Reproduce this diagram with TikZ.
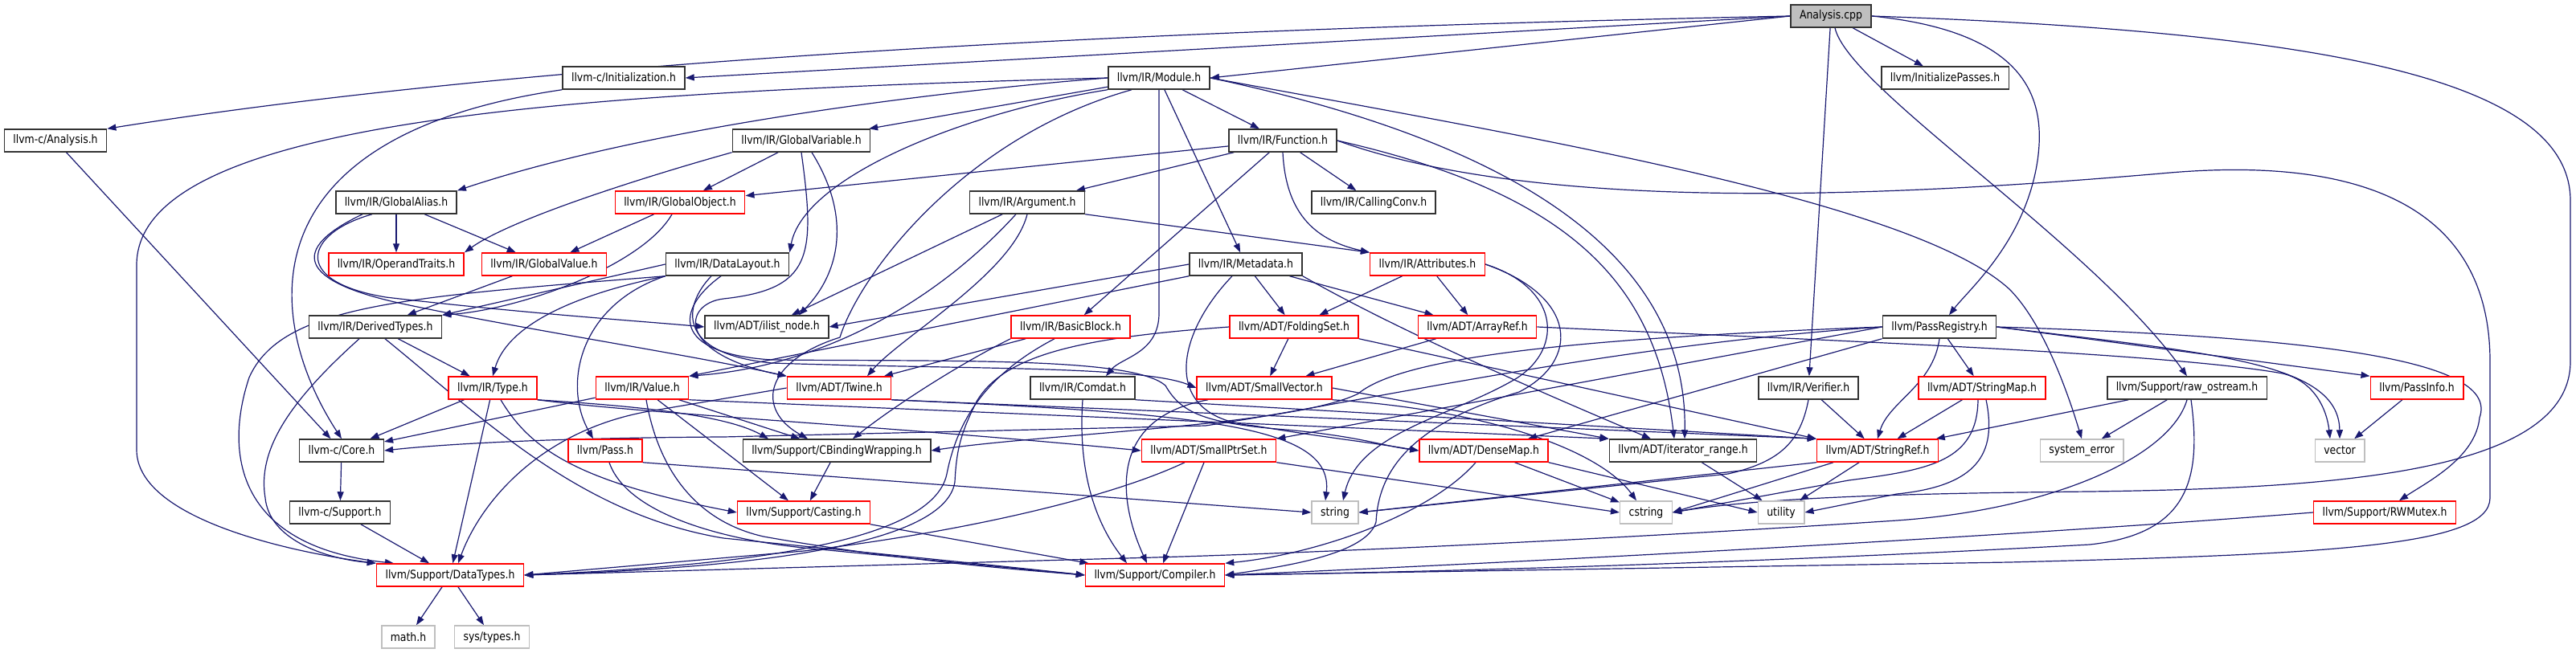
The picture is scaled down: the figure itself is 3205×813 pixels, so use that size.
\documentclass[tikz,border=0pt]{standalone}
\usepackage{fontspec}
\setmainfont[FakeStretch=0.86]{DejaVu Sans}
\usetikzlibrary{arrows.meta}
\definecolor{edgec}{RGB}{25,25,112}
\definecolor{redb}{RGB}{255,0,0}
\definecolor{grayb}{RGB}{191,191,191}
\definecolor{rootf}{RGB}{191,191,191}
\pgfdeclarelayer{bg}
\pgfsetlayers{bg,main}
\tikzset{
  nb/.style={rectangle, draw, line width=1.5pt, minimum height=28pt, inner xsep=11pt, inner ysep=0pt, fill=white, font=\fontsize{14.5}{17}\selectfont},
  bbox/.style={nb, draw=black!80},
  rbox/.style={nb, draw=redb},
  gbox/.style={nb, draw=grayb},
  rootbox/.style={nb, draw=black!80, fill=rootf},
  ed/.style={draw=edgec, line width=1.2pt, -{Triangle[length=11pt,width=8pt]}},
}
\begin{document}
\begin{tikzpicture}[x=1pt,y=-1pt]
\useasboundingbox (0,0) rectangle (3205,813);
% nodes
\node[rootbox] (A) at (2278,20) {Analysis.cpp};
\node[bbox] (cAn) at (69,175) {llvm-c/Analysis.h};
\node[bbox] (cInit) at (776,97) {llvm-c/Initialization.h};
\node[bbox] (Mod) at (1442,97) {llvm/IR/Module.h};
\node[bbox] (InitP) at (2420,97) {llvm/InitializePasses.h};
\node[bbox] (GV) at (997,175) {llvm/IR/GlobalVariable.h};
\node[bbox] (Fn) at (1596,175) {llvm/IR/Function.h};
\node[bbox] (GA) at (493,252) {llvm/IR/GlobalAlias.h};
\node[rbox] (GO) at (846,252) {llvm/IR/GlobalObject.h};
\node[bbox] (Arg) at (1278,252) {llvm/IR/Argument.h};
\node[bbox] (CC) at (1709,252) {llvm/IR/CallingConv.h};
\node[rbox] (OT) at (493,329) {llvm/IR/OperandTraits.h};
\node[rbox] (GVal) at (677,329) {llvm/IR/GlobalValue.h};
\node[bbox] (DL) at (905,329) {llvm/IR/DataLayout.h};
\node[bbox] (Md) at (1550,329) {llvm/IR/Metadata.h};
\node[rbox] (Attr) at (1776,329) {llvm/IR/Attributes.h};
\node[bbox] (DT) at (467,407) {llvm/IR/DerivedTypes.h};
\node[bbox] (ilist) at (954,407) {llvm/ADT/ilist\_node.h};
\node[rbox] (BB) at (1332,407) {llvm/IR/BasicBlock.h};
\node[rbox] (FS) at (1610,407) {llvm/ADT/FoldingSet.h};
\node[rbox] (AR) at (1838,407) {llvm/ADT/ArrayRef.h};
\node[bbox] (PR) at (2413,407) {llvm/PassRegistry.h};
\node[rbox] (Type) at (613,483) {llvm/IR/Type.h};
\node[rbox] (Val) at (799,483) {llvm/IR/Value.h};
\node[rbox] (Twine) at (1044,483) {llvm/ADT/Twine.h};
\node[bbox] (Comdat) at (1347,483) {llvm/IR/Comdat.h};
\node[rbox] (SV) at (1573,483) {llvm/ADT/SmallVector.h};
\node[bbox] (Ver) at (2250,483) {llvm/IR/Verifier.h};
\node[rbox] (SMap) at (2466,483) {llvm/ADT/StringMap.h};
\node[bbox] (raw) at (2721,483) {llvm/Support/raw\_ostream.h};
\node[rbox] (PInfo) at (3007,483) {llvm/PassInfo.h};
\node[bbox] (Core) at (425,561) {llvm-c/Core.h};
\node[rbox] (Pass) at (753,561) {llvm/Pass.h};
\node[bbox] (CBW) at (1041,561) {llvm/Support/CBindingWrapping.h};
\node[rbox] (SPS) at (1504,561) {llvm/ADT/SmallPtrSet.h};
\node[rbox] (DM) at (1846,561) {llvm/ADT/DenseMap.h};
\node[bbox] (iter) at (2094,561) {llvm/ADT/iterator\_range.h};
\node[rbox] (SR) at (2336,561) {llvm/ADT/StringRef.h};
\node[gbox] (sysErr) at (2590,561) {system\_error};
\node[gbox] (nvec) at (2911,561) {vector};
\node[bbox] (cSup) at (423,638) {llvm-c/Support.h};
\node[rbox] (Cast) at (1000,638) {llvm/Support/Casting.h};
\node[gbox] (nstr) at (1661,638) {string};
\node[gbox] (ncstr) at (2048,638) {cstring};
\node[gbox] (nutil) at (2216,638) {utility};
\node[rbox] (RW) at (2967,638) {llvm/Support/RWMutex.h};
\node[rbox] (DTy) at (560,716) {llvm/Support/DataTypes.h};
\node[rbox] (Comp) at (1437,716) {llvm/Support/Compiler.h};
\node[gbox] (nmath) at (508,793) {math.h};
\node[gbox] (nsys) at (612,793) {sys/types.h};

\begin{pgfonlayer}{bg}
% Analysis.cpp
\draw[ed] (A.west) .. controls (1500,35) and (700,70) .. (cAn.north east);
\draw[ed] (A.west) -- (cInit.east);
\draw[ed] (A.west) -- (Mod.east);
\draw[ed] (A) -- (InitP);
\draw[ed] (A) -- (Ver);
\draw[ed] (A.east) .. controls (2530,40) and (2545,130) .. (2535,200) .. controls (2520,300) and (2450,360) .. ([xshift=12pt]PR.north);
\draw[ed] ([xshift=5pt]A.south) .. controls (2300,110) and (2600,300) .. (raw.north);
\draw[ed] (A.east) .. controls (2900,40) and (3198,100) .. (3198,250) -- (3198,450) .. controls (3198,590) and (2900,608) .. (2600,612) .. controls (2400,614) and (2200,618) .. (ncstr.east);
% c headers
\draw[ed] (cAn) -- (Core);
\draw[ed] (cInit.south west) .. controls (300,170) and (330,400) .. (Core.north);
% Module
\draw[ed] (Mod.west) .. controls (700,115) and (170,150) .. (170,330) -- (170,560) .. controls (170,650) and (380,690) .. (DTy.north west);
\draw[ed] (Mod.west) .. controls (1150,115) and (800,160) .. (GA.north east);
\draw[ed] (Mod) -- (GV);
\draw[ed] (Mod.south west) .. controls (1200,140) and (1000,220) .. (DL.north east);
\draw[ed] ([xshift=-34pt]Mod.south) .. controls (1200,170) and (1070,340) .. (1045,420) .. controls (950,450) and (940,510) .. ([xshift=-36pt]CBW.north);
\draw[ed] (Mod) -- (Fn);
\draw[ed] (Mod.south) -- (1442,390) .. controls (1442,440) and (1395,445) .. ([xshift=29pt]Comdat.north);
\draw[ed] (Mod) -- (Md);
\draw[ed] (Mod.east) .. controls (1850,170) and (2100,300) .. ([xshift=2pt]iter.north);
\draw[ed] (Mod.east) .. controls (1900,170) and (2380,250) .. (2500,360) .. controls (2540,400) and (2570,480) .. (sysErr.north);
% Function
\draw[ed] (Fn) -- (GO);
\draw[ed] (Fn) -- (Arg);
\draw[ed] (Fn) -- (BB);
\draw[ed] (Fn) -- (CC);
\draw[ed] (Fn.south) .. controls (1600,270) and (1640,300) .. (Attr.north west);
\draw[ed] (Fn.east) .. controls (1950,240) and (2060,350) .. ([xshift=-11pt]iter.north);
\draw[ed] (Fn.east) .. controls (1900,260) and (2300,250) .. (2700,215) .. controls (3000,190) and (3098,300) .. (3098,450) -- (3098,620) .. controls (3098,680) and (2900,690) .. (2500,700) -- (Comp.east);
% GlobalVariable
\draw[ed] (GV) -- (GO);
\draw[ed] (GV.south west) .. controls (820,215) and (640,270) .. (OT.north east);
\draw[ed] ([xshift=13pt]GV.south) .. controls (1060,270) and (1045,340) .. ([xshift=40pt]ilist.north);
\draw[ed] (GV.south) .. controls (1015,320) and (1010,360) .. (900,372) .. controls (850,378) and (840,440) .. (Twine.north west);
% GlobalAlias
\draw[ed] (GA) -- (OT);
\draw[ed] (GA) -- (GVal);
\draw[ed] ([xshift=-30pt]GA.south) .. controls (380,290) and (360,350) .. (480,370) .. controls (650,390) and (800,400) .. (ilist.west);
\draw[ed] ([xshift=-42pt]GA.south) .. controls (360,310) and (370,350) .. (500,378) .. controls (650,410) and (850,440) .. (Twine.north west);
% GlobalObject / GlobalValue
\draw[ed] (GO) -- (GVal);
\draw[ed] ([xshift=-10pt]GO.south) .. controls (800,330) and (650,385) .. (DT.north east);
\draw[ed] (GVal) -- (DT);
% Argument
\draw[ed] (Arg) -- (ilist);
\draw[ed] ([xshift=-14pt]Arg.south) .. controls (1170,370) and (1030,455) .. (Val.north east);
\draw[ed] (Arg.south) .. controls (1260,340) and (1120,420) .. ([xshift=35pt]Twine.north);
\draw[ed] (Arg.south east) -- (Attr.north west);
% DataLayout
\draw[ed] (DL.west) -- (DT.north east);
\draw[ed] (DL.south west) .. controls (700,370) and (630,410) .. (Type.north);
\draw[ed] (DL.south west) .. controls (720,380) and (700,480) .. ([xshift=-15pt]Pass.north);
\draw[ed] (DL.south west) .. controls (500,370) and (350,380) .. (310,470) .. controls (280,560) and (290,680) .. ([xshift=-70pt]DTy.north);
\draw[ed] ([xshift=-20pt]DL.south) .. controls (850,380) and (840,440) .. (960,452) .. controls (1200,460) and (1420,455) .. (SV.west);
\draw[ed] ([xshift=-8pt]DL.south) .. controls (840,385) and (835,440) .. (960,448) .. controls (1200,450) and (1410,445) .. (1450,480) .. controls (1470,515) and (1500,527) .. (1600,535) .. controls (1690,543) and (1720,555) .. (DM.west);
% Metadata
\draw[ed] (Md.west) -- (ilist.east);
\draw[ed] (Md.south west) -- (Val.north east);
\draw[ed] (Md) -- (FS);
\draw[ed] (Md) -- (AR);
\draw[ed] (Md.south east) .. controls (1720,400) and (1850,460) .. ([xshift=-40pt]iter.north);
\draw[ed] ([xshift=-17pt]Md.south) .. controls (1460,420) and (1445,520) .. (1560,530) .. controls (1650,545) and (1700,550) .. (DM.west);
% Attributes
\draw[ed] (Attr) -- (FS);
\draw[ed] (Attr) -- (AR);
\draw[ed] (Attr.east) .. controls (1945,360) and (1945,440) .. (1880,475) .. controls (1800,520) and (1690,540) .. ([xshift=10pt]nstr.north);
\draw[ed] (Attr.east) .. controls (1965,370) and (1965,450) .. (1890,488) .. controls (1750,530) and (1715,590) .. (1712,650) .. controls (1700,690) and (1600,705) .. (Comp.east);
% BasicBlock
\draw[ed] (BB) -- (Twine);
\draw[ed] (BB.south west) .. controls (1200,450) and (1120,500) .. ([xshift=20pt]CBW.north);
\draw[ed] ([xshift=-20pt]BB.south) .. controls (1220,470) and (1190,530) .. (1178,590) .. controls (1160,680) and (900,705) .. (DTy.east);
% FoldingSet
\draw[ed] (FS) -- (SV);
\draw[ed] (FS.south east) -- (SR.north west);
\draw[ed] (FS.west) .. controls (1350,420) and (1250,440) .. (1215,500) .. controls (1195,540) and (1190,560) .. (1188,600) .. controls (1175,685) and (900,708) .. (DTy.east);
% ArrayRef
\draw[ed] (AR) -- (SV);
\draw[ed] (AR.east) .. controls (2300,425) and (2700,440) .. (2840,465) .. controls (2880,475) and (2895,510) .. ([xshift=-12pt]nvec.north);
% PassRegistry
\draw[ed] (PR) -- (SMap);
\draw[ed] (PR.east) -- (PInfo.north west);
\draw[ed] (PR.east) .. controls (2750,440) and (2910,450) .. (nvec.north);
\draw[ed] (PR.east) .. controls (2900,420) and (3110,450) .. (3085,520) .. controls (3080,570) and (3020,600) .. ([xshift=18pt]RW.north);
\draw[ed] (PR.south) .. controls (2405,480) and (2350,500) .. (SR.north);
\draw[ed] (PR.south west) -- ([xshift=55pt]DM.north);
\draw[ed] (PR.west) -- (SPS.north east);
\draw[ed] (PR.west) .. controls (2000,420) and (1750,440) .. (1690,490) .. controls (1610,530) and (1300,540) .. (CBW.east);
\draw[ed] (PR.west) .. controls (2000,430) and (1700,500) .. (1500,530) -- (900,544) .. controls (700,545) and (560,552) .. (Core.east);
% Type
\draw[ed] (Type) -- (Core);
\draw[ed] (Type) -- (DTy);
\draw[ed] ([xshift=10pt]Type.south) .. controls (660,560) and (720,600) .. (Cast.west);
\draw[ed] (Type.south east) .. controls (780,505) and (900,515) .. ([xshift=-85pt]CBW.north);
\draw[ed] (Type.south east) .. controls (800,515) and (1100,530) .. (SPS.west);
% Value
\draw[ed] (Val) -- (Core);
\draw[ed] (Val) -- (CBW);
\draw[ed] (Val) -- (Cast);
\draw[ed] ([xshift=5pt]Val.south) .. controls (820,590) and (870,650) .. (950,668) .. controls (1100,695) and (1250,708) .. (Comp.west);
\draw[ed] (Val.south east) -- (iter.north west);
% Twine
\draw[ed] (Twine.south east) -- (SR.north west);
\draw[ed] (Twine.south east) .. controls (1500,515) and (1660,530) .. ([xshift=-12pt]nstr.north);
\draw[ed] (Twine.west) -- (820,510) .. controls (680,530) and (600,620) .. ([xshift=10pt]DTy.north);
% Comdat
\draw[ed] (Comdat.south) .. controls (1340,600) and (1370,660) .. ([xshift=-35pt]Comp.north);
\draw[ed] (Comdat.south east) -- (SR.north west);
% SmallVector
\draw[ed] (SV.east) -- (iter.north west);
\draw[ed] (SV.south east) .. controls (1850,510) and (1990,560) .. ([xshift=-12pt]ncstr.north);
\draw[ed] ([xshift=-70pt]SV.south) .. controls (1380,520) and (1390,620) .. ([xshift=-10pt]Comp.north);
% Verifier
\draw[ed] (Ver) -- (SR);
\draw[ed] (Ver.south) .. controls (2240,550) and (2215,575) .. (2150,590) -- (nstr.east);
% StringMap
\draw[ed] (SMap) -- (SR);
\draw[ed] ([xshift=-5pt]SMap.south) .. controls (2460,575) and (2400,585) .. (2300,598) -- (ncstr.east);
\draw[ed] ([xshift=5pt]SMap.south) .. controls (2485,565) and (2460,605) .. (2360,615) -- (nutil.east);
% raw_ostream
\draw[ed] (raw) -- (SR);
\draw[ed] (raw) -- (sysErr);
\draw[ed] (raw.south) .. controls (2700,570) and (2550,635) .. (2360,648) .. controls (2000,672) and (1600,690) .. (1400,695) -- (DTy.east);
\draw[ed] ([xshift=5pt]raw.south) .. controls (2740,600) and (2720,665) .. (2600,678) .. controls (2200,700) and (1800,712) .. (Comp.east);
\draw[ed] (RW.west) .. controls (2500,668) and (1900,700) .. (Comp.east);
\draw[ed] (PInfo) -- (nvec);
% C API / DataTypes
\draw[ed] (Core) -- (cSup);
\draw[ed] (cSup) -- (DTy);
\draw[ed] (DTy) -- (nmath);
\draw[ed] (DTy) -- (nsys);
% Pass
\draw[ed] (Pass.south east) -- (nstr.west);
\draw[ed] ([xshift=5pt]Pass.south) .. controls (780,640) and (900,672) .. (1000,682) -- (Comp.west);
% CBindingWrapping / Casting
\draw[ed] (CBW) -- (Cast);
\draw[ed] (Cast) -- (Comp);
% SmallPtrSet
\draw[ed] (SPS) -- ([xshift=10pt]Comp.north);
\draw[ed] ([xshift=-30pt]SPS.south) .. controls (1380,620) and (1200,662) .. (1000,686) -- (DTy.east);
\draw[ed] (SPS.south east) -- (ncstr.west);
% DenseMap
\draw[ed] ([xshift=-10pt]DM.south) .. controls (1780,640) and (1640,690) .. (Comp.north east);
\draw[ed] (DM) -- (ncstr);
\draw[ed] (DM.south east) -- (nutil.west);
% iterator_range / StringRef
\draw[ed] (iter) -- (nutil);
\draw[ed] (SR.south west) -- (nstr.east);
\draw[ed] ([xshift=-55pt]SR.south) -- (ncstr.east);
\draw[ed] (SR) -- (nutil);
% DerivedTypes
\draw[ed] (DT) -- (Type);
\draw[ed] ([xshift=-20pt]DT.south) .. controls (360,500) and (320,560) .. (330,620) .. controls (335,670) and (400,695) .. (DTy.north west);
\draw[ed] ([xshift=12pt]DT.south) .. controls (600,520) and (720,640) .. (900,670) .. controls (1100,690) and (1250,705) .. (Comp.west);
\end{pgfonlayer}
\end{tikzpicture}
\end{document}
